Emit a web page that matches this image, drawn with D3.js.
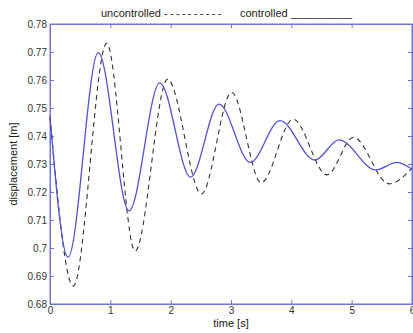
<!DOCTYPE html>
<html><head><meta charset="utf-8">
<script src="https://cdn.jsdelivr.net/npm/d3@7"></script>
<style>
html,body{margin:0;padding:0;background:#fff;}
svg{display:block;font-family:"Liberation Sans",Arial,sans-serif;}
</style></head>
<body>
<svg id="c" width="413" height="333"></svg>
<script>
// controlled (solid) turning points: time [s], displacement [m]
const controlledT = [0, 0.30, 0.80, 1.31, 1.82, 2.33, 2.80, 3.32, 3.81, 4.39, 4.79, 5.40, 5.75, 6.0];
const controlledY = [0.7469, 0.6967, 0.7698, 0.7133, 0.7590, 0.7253, 0.7514, 0.7306, 0.7455, 0.7314, 0.7386, 0.7279, 0.7306, 0.7281];
// uncontrolled (dashed) turning points
const uncontrolledT = [0, 0.386, 0.94, 1.41, 1.95, 2.51, 3.01, 3.50, 4.03, 4.59, 5.03, 5.62, 6.0];
const uncontrolledY = [0.7469, 0.6864, 0.7731, 0.6989, 0.7603, 0.7193, 0.7556, 0.7233, 0.7460, 0.7261, 0.7395, 0.7229, 0.7285];
const xTicks = [0, 1, 2, 3, 4, 5, 6];
const yTicks = [0.68, 0.69, 0.70, 0.71, 0.72, 0.73, 0.74, 0.75, 0.76, 0.77, 0.78];

const svg = d3.select("#c");
const L = 50, R = 412, T = 24, B = 304;
const x = d3.scaleLinear().domain([0, 6]).range([L, R]);
const y = d3.scaleLinear().domain([0.68, 0.78]).range([B, T]);
const axisColor = "#7373d6";
const textColor = "#333";

// frame
svg.append("rect").attr("x", L).attr("y", T).attr("width", R - L).attr("height", B - T)
  .attr("fill", "none").attr("stroke", axisColor).attr("stroke-width", 1);

// axes with inward ticks
const fmtY = d => d3.format(".2f")(d).replace(/0$/, "").replace(/\.$/, "");
const gx = svg.append("g").attr("transform", `translate(0,${B})`)
  .call(d3.axisBottom(x).tickValues(xTicks).tickSize(-4).tickPadding(3).tickFormat(d3.format("d")));
const gxt = svg.append("g").attr("transform", `translate(0,${T})`)
  .call(d3.axisTop(x).tickValues(xTicks).tickSize(-4).tickFormat(""));
const gy = svg.append("g").attr("transform", `translate(${L},0)`)
  .call(d3.axisLeft(y).tickValues(yTicks).tickSize(-4).tickPadding(3).tickFormat(fmtY));
const gyr = svg.append("g").attr("transform", `translate(${R},0)`)
  .call(d3.axisRight(y).tickValues(yTicks).tickSize(-4).tickFormat(""));
[gx, gxt, gy, gyr].forEach(g => {
  g.select(".domain").attr("stroke", axisColor);
  g.selectAll(".tick line").attr("stroke", axisColor);
  g.selectAll(".tick text").attr("fill", textColor).attr("font-size", 10)
    .attr("font-family", "Liberation Sans, Arial, sans-serif");
});

// lines
const line = d3.line().x(d => x(d[0])).y(d => y(d[1])).curve(d3.curveMonotoneX);
const unc = uncontrolledT.map((t, i) => [t, uncontrolledY[i]]);
const con = controlledT.map((t, i) => [t, controlledY[i]]);
svg.append("path").attr("d", line(unc)).attr("fill", "none")
  .attr("stroke", "#333").attr("stroke-width", 1.1).attr("stroke-dasharray", "5,4");
svg.append("path").attr("d", line(con)).attr("fill", "none")
  .attr("stroke", "#5252d8").attr("stroke-width", 1.3);

// legend title (text)
const t1 = svg.append("text").attr("x", 101).attr("y", 17).attr("font-size", 11).attr("fill", "#222");
t1.append("tspan").text("uncontrolled ");
t1.append("tspan").attr("letter-spacing", "2.3px").text("----------");
const t2 = svg.append("text").attr("x", 240).attr("y", 17).attr("font-size", 11).attr("fill", "#222");
t2.append("tspan").text("controlled");
t2.append("tspan").attr("x", 291).text("__________");

svg.append("text").attr("x", 231).attr("y", 327).attr("text-anchor", "middle")
  .attr("font-size", 11).attr("fill", "#222").text("time [s]");
svg.append("text").attr("transform", "translate(17,164) rotate(-90)").attr("text-anchor", "middle")
  .attr("font-size", 11).attr("fill", "#222").text("displacement [m]");
</script>
</body></html>
